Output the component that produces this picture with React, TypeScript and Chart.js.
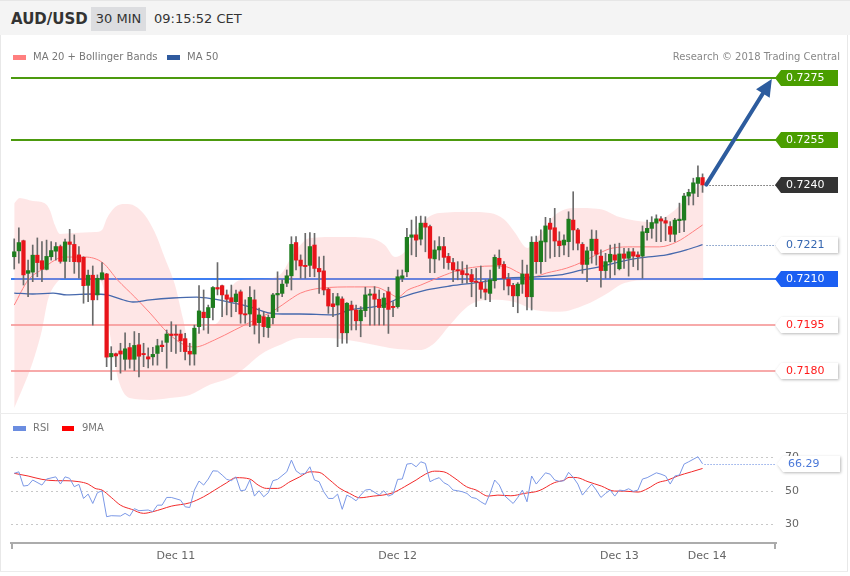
import React, { useEffect, useRef } from 'react';
import { Chart, registerables } from 'chart.js';
Chart.register(...registerables);
Chart.defaults.font.family = '"DejaVu Sans", sans-serif';

// ---------- data ----------
const opens = [
  0.72171,0.72190,0.72223,0.72117,0.72121,0.72176,0.72158,0.72130,0.72171,0.72189,
  0.72204,0.72156,0.72219,0.72211,0.72177,0.72169,0.72078,0.72111,0.72047,0.72098,
  0.72115,0.71846,0.71856,0.71865,0.71838,0.71876,0.71838,0.71885,0.71855,0.71846,
  0.71846,0.71857,0.71884,0.71893,0.71920,0.71920,0.71920,0.71905,0.71864,0.71855,
  0.71944,0.71991,0.71973,0.72006,0.72071,0.72077,0.72047,0.72038,0.72025,0.72057,
  0.71985,0.71985,0.72031,0.71957,0.71976,0.71941,0.71973,0.72047,0.72052,0.72085,
  0.72109,0.72217,0.72160,0.72143,0.72143,0.72209,0.72133,0.72125,0.72066,0.72018,
  0.72014,0.72034,0.71924,0.72014,0.71998,0.71963,0.71996,0.72046,0.72050,0.72033,
  0.72006,0.72057,0.72008,0.72009,0.72101,0.72122,0.72234,0.72242,0.72228,0.72280,
  0.72269,0.72164,0.72193,0.72204,0.72172,0.72152,0.72128,0.72126,0.72114,0.72113,
  0.72090,0.72088,0.72066,0.72052,0.72093,0.72166,0.72146,0.72098,0.72078,0.72044,
  0.72082,0.72115,0.72041,0.72218,0.72155,0.72219,0.72280,0.72265,0.72222,0.72209,
  0.72220,0.72290,0.72258,0.72211,0.72146,0.72191,0.72228,0.72173,0.72126,0.72154,
  0.72177,0.72132,0.72180,0.72166,0.72187,0.72177,0.72173,0.72249,0.72263,0.72280,
  0.72294,0.72288,0.72269,0.72244,0.72288,0.72290,0.72368,0.72377,0.72409,0.72428,
];
const highs = [
  0.72229,0.72265,0.72225,0.72160,0.72209,0.72232,0.72220,0.72225,0.72220,0.72217,
  0.72209,0.72228,0.72260,0.72242,0.72204,0.72171,0.72128,0.72141,0.72112,0.72152,
  0.72117,0.71879,0.71858,0.71890,0.71924,0.71890,0.71928,0.71922,0.71890,0.71875,
  0.71877,0.71903,0.71898,0.71933,0.71960,0.71949,0.71933,0.71922,0.71890,0.71949,
  0.72077,0.72063,0.72014,0.72074,0.72152,0.72079,0.72063,0.72079,0.72063,0.72063,
  0.72031,0.72074,0.72063,0.72004,0.71993,0.71982,0.72052,0.72122,0.72096,0.72128,
  0.72236,0.72236,0.72177,0.72247,0.72249,0.72247,0.72171,0.72173,0.72069,0.72052,
  0.72052,0.72041,0.72022,0.72027,0.72014,0.72009,0.72072,0.72065,0.72074,0.72063,
  0.72052,0.72072,0.72025,0.72128,0.72128,0.72263,0.72290,0.72301,0.72303,0.72301,
  0.72274,0.72223,0.72236,0.72234,0.72182,0.72166,0.72155,0.72155,0.72144,0.72130,
  0.72133,0.72141,0.72096,0.72128,0.72177,0.72193,0.72155,0.72117,0.72085,0.72087,
  0.72160,0.72144,0.72236,0.72238,0.72258,0.72299,0.72296,0.72328,0.72252,0.72242,
  0.72317,0.72382,0.72263,0.72217,0.72202,0.72258,0.72256,0.72193,0.72182,0.72209,
  0.72212,0.72215,0.72198,0.72198,0.72198,0.72187,0.72271,0.72290,0.72301,0.72307,
  0.72301,0.72299,0.72285,0.72296,0.72345,0.72377,0.72390,0.72426,0.72466,0.72440,
];
const lows = [
  0.72131,0.72150,0.72079,0.72041,0.72090,0.72106,0.72090,0.72128,0.72160,0.72160,
  0.72150,0.72101,0.72155,0.72117,0.72101,0.72020,0.72025,0.71949,0.72031,0.72096,
  0.71814,0.71771,0.71814,0.71793,0.71803,0.71809,0.71801,0.71781,0.71814,0.71810,
  0.71819,0.71819,0.71863,0.71809,0.71863,0.71857,0.71863,0.71836,0.71819,0.71819,
  0.71922,0.71933,0.71922,0.71966,0.72047,0.71976,0.71982,0.71976,0.71993,0.71955,
  0.71955,0.71944,0.71920,0.71890,0.71911,0.71909,0.71953,0.71993,0.72041,0.72074,
  0.72063,0.72128,0.72101,0.72101,0.72106,0.72106,0.72052,0.72047,0.71987,0.71976,
  0.71879,0.71890,0.71890,0.71933,0.71933,0.71911,0.71976,0.71949,0.71949,0.71949,
  0.71949,0.71922,0.71976,0.72004,0.72090,0.72106,0.72177,0.72171,0.72209,0.72187,
  0.72119,0.72119,0.72160,0.72133,0.72130,0.72090,0.72096,0.72085,0.72085,0.72041,
  0.72009,0.72036,0.72031,0.72025,0.72069,0.72133,0.72063,0.72047,0.72009,0.71989,
  0.72052,0.71998,0.71998,0.72117,0.72117,0.72155,0.72166,0.72171,0.72171,0.72177,
  0.72171,0.72193,0.72193,0.72117,0.72090,0.72150,0.72144,0.72072,0.72101,0.72101,
  0.72112,0.72128,0.72133,0.72108,0.72139,0.72128,0.72101,0.72225,0.72231,0.72220,
  0.72220,0.72223,0.72220,0.72220,0.72249,0.72252,0.72339,0.72339,0.72366,0.72380,
];
const closes = [
  0.72187,0.72217,0.72112,0.72126,0.72176,0.72152,0.72130,0.72172,0.72191,0.72204,
  0.72156,0.72219,0.72211,0.72155,0.72154,0.72077,0.72111,0.72031,0.72101,0.72119,
  0.71845,0.71857,0.71849,0.71855,0.71872,0.71838,0.71883,0.71848,0.71853,0.71839,
  0.71854,0.71882,0.71879,0.71920,0.71915,0.71916,0.71898,0.71863,0.71855,0.71939,
  0.71995,0.71973,0.72006,0.72071,0.72066,0.72047,0.72033,0.72025,0.72050,0.71985,
  0.71982,0.72039,0.71949,0.71982,0.71944,0.71974,0.72047,0.72052,0.72082,0.72109,
  0.72211,0.72160,0.72141,0.72139,0.72204,0.72133,0.72122,0.72063,0.72011,0.72009,
  0.72041,0.71924,0.72020,0.71998,0.71963,0.71998,0.72047,0.72050,0.72033,0.72006,
  0.72037,0.72000,0.72006,0.72106,0.72109,0.72234,0.72242,0.72225,0.72280,0.72267,
  0.72166,0.72193,0.72204,0.72169,0.72152,0.72128,0.72125,0.72113,0.72112,0.72090,
  0.72088,0.72065,0.72056,0.72096,0.72169,0.72144,0.72101,0.72076,0.72044,0.72082,
  0.72115,0.72041,0.72218,0.72155,0.72222,0.72271,0.72260,0.72222,0.72207,0.72225,
  0.72293,0.72258,0.72215,0.72146,0.72190,0.72228,0.72179,0.72126,0.72155,0.72179,
  0.72160,0.72180,0.72166,0.72187,0.72173,0.72171,0.72252,0.72263,0.72282,0.72294,
  0.72287,0.72280,0.72244,0.72290,0.72293,0.72368,0.72380,0.72411,0.72428,0.72404,
];

// [candle index, price]
const bandUpper = [
  [0,0.72345],[1.2,0.72362],[4,0.72352],[6.6,0.72345],[7.7,0.72323],[8.8,0.72274],[9.9,0.72245],
  [13,0.72248],[17.5,0.72251],[19,0.72258],[20.1,0.72297],[21.8,0.72332],[24,0.72342],[26.1,0.72336],
  [28.3,0.72306],[30.4,0.72251],[32.6,0.72167],[34.8,0.72079],[36.5,0.71972],[38,0.71885],
  [39.1,0.71917],[41.3,0.71940],[44.5,0.71966],[46.7,0.72063],[48.8,0.72095],[53.2,0.72099],
  [57.5,0.72112],[60.7,0.72186],[64,0.72232],[70.5,0.72235],[77,0.72232],[80.2,0.72209],
  [82.4,0.72170],[84.5,0.72186],[87.8,0.72274],[92.1,0.72313],[98.6,0.72316],[103,0.72313],
  [106.2,0.72290],[108.3,0.72251],[111.1,0.72199],[113.7,0.72242],[117,0.72306],[121.3,0.72329],
  [126.7,0.72326],[131,0.72300],[137.5,0.72284],[141.9,0.72310],[146.2,0.72371],[149.2,0.72420],
];
const bandLower = [
  [0,0.71680],[1.2,0.71722],[3,0.71787],[4.7,0.71862],[6,0.71933],[7.3,0.72031],[8.8,0.72079],
  [10.3,0.72099],[18.5,0.72095],[19.4,0.72063],[20.3,0.71966],[21.4,0.71852],[22.9,0.71755],
  [25,0.71712],[29.4,0.71706],[33.7,0.71712],[38,0.71722],[42.3,0.71755],[46.7,0.71777],
  [49.9,0.71810],[53.2,0.71852],[57.5,0.71884],[61.8,0.71907],[68.3,0.71907],[74.8,0.71894],
  [81.3,0.71875],[87.8,0.71868],[91,0.71891],[94.3,0.71949],[98.6,0.72014],[103,0.72031],
  [108.3,0.72024],[112.7,0.71998],[118.1,0.71992],[123.5,0.72014],[127.8,0.72047],
  [132.1,0.72086],[137.5,0.72095],[149.2,0.72095],
];
const ma20 = [
  [0,0.72014],[3,0.72095],[5.8,0.72128],[8.8,0.72160],[10.5,0.72170],[15.3,0.72170],[19.2,0.72151],
  [22.4,0.72095],[26.1,0.72040],[29.4,0.71988],[33.3,0.71923],[36.9,0.71884],[39.1,0.71878],
  [43.4,0.71901],[47.7,0.71933],[52.1,0.71966],[56.4,0.71998],[59.6,0.72031],[62,0.72053],
  [66.4,0.72069],[73.7,0.72073],[78,0.72073],[80.9,0.72056],[83,0.72040],[85.2,0.72063],
  [88,0.72079],[92.1,0.72105],[96.4,0.72128],[100.1,0.72138],[103.6,0.72141],[106.6,0.72138],
  [109.4,0.72118],[112.2,0.72105],[115.2,0.72118],[119.6,0.72134],[123,0.72154],[126.7,0.72183],
  [129.5,0.72199],[133.9,0.72203],[139.7,0.72203],[143.4,0.72219],[146.8,0.72251],[149,0.72274],
];
const ma50 = [
  [0,0.72053],[4,0.72050],[8.4,0.72053],[11.4,0.72047],[17,0.72050],[20.1,0.72047],[22.9,0.72034],
  [25.7,0.72024],[29.4,0.72031],[34.3,0.72037],[39.5,0.72040],[43,0.72034],[47.3,0.72021],
  [51,0.72008],[55.3,0.71988],[58.1,0.71985],[61.8,0.71985],[69,0.71982],[72.6,0.71998],
  [79.8,0.72014],[83.4,0.72037],[89.3,0.72063],[94.3,0.72076],[101.4,0.72089],[106.6,0.72102],
  [112.2,0.72105],[118.1,0.72112],[123,0.72128],[126.7,0.72138],[131,0.72154],[135.4,0.72167],
  [141.2,0.72177],[145.5,0.72193],[149,0.72210],
];
const rsi = [
  [0,60.6],[1,61.5],[2,53.0],[3,53.4],[4,56.6],[6,53.6],[7,57.2],[9,58.5],[10,54.2],[11,58.5],
  [12,57.6],[13,52.6],[14,54.0],[15,45.6],[16,48.2],[17,42.6],[18,49.0],[19,50.2],[20,34.7],
  [21,35.3],[23,35.1],[24,36.7],[25,35.1],[26,39.5],[27,38.3],[29,38.7],[30,37.7],[31,41.6],
  [32,41.6],[33,46.2],[34,46.2],[36,44.6],[37,40.6],[38,40.2],[39,50.6],[40,56.0],[41,53.6],
  [42,57.2],[43,62.1],[44,61.9],[45,59.6],[46,57.0],[47,56.2],[48,58.5],[49,50.2],[50,50.6],
  [51,56.6],[52,47.0],[53,50.2],[54,46.6],[55,49.0],[56,56.2],[57,57.0],[59,61.5],[60,68.5],
  [61,62.1],[62,60.1],[63,60.6],[64,64.5],[65,56.6],[66,55.6],[67,49.6],[68,45.6],[69,45.6],
  [70,48.2],[71,39.1],[72,47.6],[73,46.2],[74,44.2],[75,47.6],[76,50.6],[77,51.0],[79,47.6],
  [80,50.2],[81,47.0],[82,48.2],[83,57.0],[84,57.2],[85,66.1],[86,66.5],[87,64.5],[88,67.5],
  [89,66.5],[90,55.6],[91,57.0],[92,58.0],[93,55.0],[94,53.6],[95,50.6],[96,50.2],[97,49.6],
  [98,48.6],[99,46.2],[100,45.6],[101,43.6],[102,42.0],[103,48.6],[104,56.6],[105,53.6],
  [106,47.6],[108,42.6],[109,46.2],[110,50.6],[111,43.6],[112,59.0],[113,54.2],[115,60.9],
  [116,60.1],[117,56.6],[118,55.8],[119,56.2],[120,61.2],[121,58.2],[122,54.2],[123,47.6],
  [124,51.0],[125,54.2],[126,50.6],[127,46.2],[128,48.6],[129,50.6],[130,47.0],[131,50.6],
  [132,50.2],[133,51.4],[134,49.8],[135,50.6],[136,57.2],[137,58.0],[139,60.9],[140,60.1],
  [141,59.0],[142,54.2],[143,59.0],[144,59.6],[145,66.1],[146,67.5],[148,70.5],[149,66.29],
];
const rsiMa = [
  [0,60.6],[3,59.0],[6,57.0],[9,56.2],[11,56.2],[14,55.6],[16,54.2],[17.5,51.6],[19,50.6],
  [21,46.2],[23,41.6],[25.4,39.1],[28,36.7],[30,37.7],[32,39.3],[34,41.0],[38,43.0],[41,46.6],
  [43.4,50.6],[46,55.0],[48,58.0],[51,57.2],[52.8,53.6],[54.6,51.6],[57,51.6],[59.7,55.6],
  [61.8,58.5],[64,61.5],[66,61.2],[68.3,56.6],[70.5,51.6],[72.6,48.6],[74.8,46.0],[77.7,47.0],
  [79.8,47.6],[82,49.0],[84.5,52.6],[87,56.6],[89,60.1],[91,61.9],[93,61.5],[95.4,57.6],
  [97.9,52.6],[100,50.6],[102.6,47.0],[104.7,47.6],[107.5,47.2],[110.4,48.6],[113.6,50.2],
  [116.9,55.0],[119.1,56.6],[120.1,58.2],[121.9,58.0],[124.2,55.6],[127.1,53.0],[129.9,50.0],
  [132,50.0],[135,49.4],[137.2,51.6],[139.3,55.0],[141.5,56.6],[143.6,59.0],[146.6,61.5],[149,63.5],
];
const levels = [0.7275, 0.7255, 0.7210, 0.7195, 0.7180];
const levelLabels = ['0.7275', '0.7255', '0.7210', '0.7195', '0.7180'];
const lastPrice = 0.72404;
const lastPriceLabel = '0.7240';
const ma50Last = 0.7221;
const ma50Label = '0.7221';
const rsiLast = 66.29;
const rsiLabel = '66.29';
const arrowFrom = [149.8, 0.72405];
const arrowTo = [164.0, 0.72748];
const dateTicks = [35, 83, 131, 150];
const dateLabels = ['Dec 11', 'Dec 12', 'Dec 13', 'Dec 14'];
const rsiTicks = [30, 50, 70];

// ---------- styles ----------
const levelColors = ['#4c9a0e', '#4c9a0e', '#3d7ef2', '#f7aaaa', '#f7aaaa'];
const tagBg = ['#4a9e00', '#4a9e00', '#1b5ff2', '#ffffff', '#ffffff'];
const tagFg = ['#ffffff', '#ffffff', '#ffffff', '#ff1a1a', '#ff1a1a'];
const GREEN = '#1e7d1e';
const RED = '#e8141a';
const X_MIN = -0.7;
const X_MAX = 164.9;

function drawTag(ctx: any, x: number, y: number, text: string, bg: string, fg: string) {
  const h = 16, w = 63, tip = 6;
  ctx.save();
  if (bg === '#ffffff') {
    ctx.shadowColor = 'rgba(0,0,0,0.28)';
    ctx.shadowBlur = 3;
    ctx.shadowOffsetX = 1;
    ctx.shadowOffsetY = 1;
  }
  ctx.fillStyle = bg;
  ctx.beginPath();
  ctx.moveTo(x, y);
  ctx.lineTo(x + tip, y - h / 2);
  ctx.lineTo(x + w, y - h / 2);
  ctx.lineTo(x + w, y + h / 2);
  ctx.lineTo(x + tip, y + h / 2);
  ctx.closePath();
  ctx.fill();
  ctx.restore();
  ctx.save();
  ctx.fillStyle = fg;
  ctx.font = '11px "DejaVu Sans"';
  ctx.textBaseline = 'middle';
  ctx.textAlign = 'left';
  ctx.fillText(text, x + 11, y + 0.5);
  ctx.restore();
}

const priceOverlay = {
  id: 'priceOverlay',
  beforeDatasetsDraw(chart: any) {
    const { ctx, chartArea: a, scales } = chart;
    ctx.save();
    levels.forEach((lv, k) => {
      const yy = Math.round(scales.y.getPixelForValue(lv));
      ctx.strokeStyle = levelColors[k];
      ctx.lineWidth = 2;
      ctx.beginPath();
      ctx.moveTo(a.left, yy);
      ctx.lineTo(a.right, yy);
      ctx.stroke();
    });
    ctx.restore();
  },
  afterDraw(chart: any) {
    const { ctx, chartArea: a, scales } = chart;
    const xs = scales.x, ys = scales.y;
    const xEnd = xs.getPixelForValue(closes.length - 1) + 4;
    ctx.save();
    ctx.setLineDash([1, 2]);
    ctx.lineWidth = 1;
    ctx.strokeStyle = '#222';
    let yy = Math.round(ys.getPixelForValue(lastPrice)) + 0.5;
    ctx.beginPath(); ctx.moveTo(xEnd, yy); ctx.lineTo(a.right, yy); ctx.stroke();
    ctx.strokeStyle = '#3a64a8';
    yy = Math.round(ys.getPixelForValue(ma50Last)) + 0.5;
    ctx.beginPath(); ctx.moveTo(xEnd, yy); ctx.lineTo(a.right, yy); ctx.stroke();
    ctx.restore();

    // arrow
    const x1 = xs.getPixelForValue(arrowFrom[0]), y1 = ys.getPixelForValue(arrowFrom[1]);
    const x2 = xs.getPixelForValue(arrowTo[0]), y2 = ys.getPixelForValue(arrowTo[1]);
    const ang = Math.atan2(y2 - y1, x2 - x1);
    const hl = 17, hw = 8;
    const bx = x2 - hl * Math.cos(ang), by = y2 - hl * Math.sin(ang);
    ctx.save();
    ctx.strokeStyle = '#2d5c9e';
    ctx.fillStyle = '#2d5c9e';
    ctx.lineWidth = 4;
    ctx.lineCap = 'round';
    ctx.beginPath(); ctx.moveTo(x1, y1); ctx.lineTo(bx, by); ctx.stroke();
    ctx.beginPath();
    ctx.moveTo(x2, y2);
    ctx.lineTo(bx + hw * Math.sin(ang), by - hw * Math.cos(ang));
    ctx.lineTo(bx - hw * Math.sin(ang), by + hw * Math.cos(ang));
    ctx.closePath();
    ctx.fill();
    ctx.restore();

    const tx = a.right - 1;
    levels.forEach((lv, k) => {
      drawTag(ctx, tx, Math.round(ys.getPixelForValue(lv)), levelLabels[k], tagBg[k], tagFg[k]);
    });
    drawTag(ctx, tx, Math.round(ys.getPixelForValue(lastPrice)), lastPriceLabel, '#333333', '#ffffff');
    drawTag(ctx, tx, Math.round(ys.getPixelForValue(ma50Last)), ma50Label, '#ffffff', '#3566b0');
  },
};

const rsiOverlay = {
  id: 'rsiOverlay',
  afterDraw(chart: any) {
    const { ctx, chartArea: a, scales } = chart;
    ctx.save();
    ctx.strokeStyle = '#aaa';
    ctx.lineWidth = 2;
    ctx.beginPath();
    ctx.moveTo(a.left + 1, a.bottom); ctx.lineTo(a.left + 1, a.bottom + 6);
    ctx.moveTo(a.right - 1, a.bottom); ctx.lineTo(a.right - 1, a.bottom + 6);
    ctx.stroke();
    const xEnd = scales.x.getPixelForValue(rsi[rsi.length - 1][0]) + 2;
    const yy = Math.round(scales.y.getPixelForValue(rsiLast)) + 0.5;
    ctx.setLineDash([1, 2]);
    ctx.lineWidth = 1;
    ctx.strokeStyle = '#5b82e0';
    ctx.beginPath(); ctx.moveTo(xEnd, yy); ctx.lineTo(a.right, yy); ctx.stroke();
    ctx.restore();
    drawTag(ctx, a.right + 1, Math.round(scales.y.getPixelForValue(rsiLast)), rsiLabel, '#ffffff', '#4a78d8');
  },
};

export default function App() {
  const priceRef = useRef<HTMLCanvasElement>(null);
  const rsiRef = useRef<HTMLCanvasElement>(null);

  useEffect(() => {
    const bodyColors = opens.map((o, i) => (closes[i] >= o ? GREEN : RED));
    const pc = new Chart(priceRef.current as HTMLCanvasElement, {
      type: 'bar',
      data: {
        datasets: [
          {
            type: 'bar',
            data: opens.map((o, i) => ({ x: i, y: [o, closes[i]] })),
            backgroundColor: bodyColors,
            borderWidth: 0,
            barThickness: 3.6,
            minBarLength: 1.2,
            grouped: false,
            order: 0,
          } as any,
          {
            type: 'bar',
            data: lows.map((l, i) => ({ x: i, y: [l, highs[i]] })),
            backgroundColor: '#6a6a6a',
            borderWidth: 0,
            barThickness: 1,
            grouped: false,
            order: 1,
          } as any,
          {
            type: 'line',
            data: ma50.map(([x, y]) => ({ x, y })),
            borderColor: '#4769ad',
            borderWidth: 1.3,
            pointRadius: 0,
            cubicInterpolationMode: 'monotone',
            fill: false,
            order: 2,
          } as any,
          {
            type: 'line',
            data: ma20.map(([x, y]) => ({ x, y })),
            borderColor: '#ff8080',
            borderWidth: 1,
            pointRadius: 0,
            cubicInterpolationMode: 'monotone',
            fill: false,
            order: 3,
          } as any,
          {
            type: 'line',
            data: bandUpper.map(([x, y]) => ({ x, y })),
            borderWidth: 0,
            borderColor: 'rgba(0,0,0,0)',
            backgroundColor: 'rgba(250,150,150,0.24)',
            pointRadius: 0,
            cubicInterpolationMode: 'monotone',
            fill: '+1',
            order: 4,
          } as any,
          {
            type: 'line',
            data: bandLower.map(([x, y]) => ({ x, y })),
            borderWidth: 0,
            borderColor: 'rgba(0,0,0,0)',
            pointRadius: 0,
            cubicInterpolationMode: 'monotone',
            fill: false,
            order: 5,
          } as any,
        ],
      },
      options: {
        responsive: false,
        animation: false,
        devicePixelRatio: 1,
        layout: { padding: { left: 11, right: 74, top: 0, bottom: 0 } },
        plugins: { legend: { display: false }, tooltip: { enabled: false } },
        scales: {
          x: { type: 'linear', min: X_MIN, max: X_MAX, offset: false, display: false, grid: { offset: false } },
          y: { type: 'linear', min: 0.716636, max: 0.728909, display: false },
        },
      } as any,
      plugins: [priceOverlay],
    });

    const rc = new Chart(rsiRef.current as HTMLCanvasElement, {
      type: 'line',
      data: {
        datasets: [
          {
            data: rsi.map(([x, y]) => ({ x, y })),
            borderColor: '#7b98e6',
            borderWidth: 1,
            pointRadius: 0,
            tension: 0,
            fill: false,
          },
          {
            data: rsiMa.map(([x, y]) => ({ x, y })),
            borderColor: '#f22a2a',
            borderWidth: 1,
            pointRadius: 0,
            cubicInterpolationMode: 'monotone',
            fill: false,
          },
        ],
      },
      options: {
        responsive: false,
        animation: false,
        devicePixelRatio: 1,
        layout: { padding: { left: 11, right: 0, top: 27, bottom: 0 } },
        plugins: { legend: { display: false }, tooltip: { enabled: false } },
        scales: {
          x: {
            type: 'linear',
            min: X_MIN,
            max: X_MAX,
            offset: false,
            grid: { display: false, drawTicks: false },
            border: { display: true, color: '#acacac', width: 2 },
            afterBuildTicks: (s: any) => { s.ticks = dateTicks.map((v) => ({ value: v })); },
            afterFit: (s: any) => { s.height = 28; },
            ticks: {
              autoSkip: false,
              maxRotation: 0,
              padding: 7,
              color: '#666',
              font: { size: 11 },
              callback: (v: any) => { const k = dateTicks.indexOf(v); return k >= 0 ? dateLabels[k] : ''; },
            },
          },
          y: {
            type: 'linear',
            position: 'right',
            min: 19,
            max: 80.5,
            afterBuildTicks: (s: any) => { s.ticks = rsiTicks.map((v) => ({ value: v })); },
            afterFit: (s: any) => { s.width = 74; },
            grid: { color: '#c8c8c8', drawTicks: false, lineWidth: 1 },
            border: { display: false, dash: [2, 3] },
            ticks: { padding: 9, color: '#666', font: { size: 11 } },
          },
        },
      } as any,
      plugins: [rsiOverlay],
    });

    return () => { pc.destroy(); rc.destroy(); };
  }, []);

  const font = '"DejaVu Sans", sans-serif';
  return (
    <div style={{ position: 'absolute', left: 0, top: 0, width: 850, height: 576, background: '#fff', fontFamily: font, overflow: 'hidden' }}>
      <div style={{ position: 'absolute', left: 0, top: 0, width: 850, height: 35, background: '#f4f4f4', borderTop: '1px solid #e6e6e6', boxSizing: 'border-box' }}>
        <span style={{ position: 'absolute', left: 11, top: 9, fontSize: 15, fontWeight: 'bold', color: '#333', lineHeight: '18px' }}>AUD/USD</span>
        <span style={{ position: 'absolute', left: 91, top: 6, width: 55, height: 24, background: '#dcdde0', fontSize: 13, color: '#333', lineHeight: '24px', textAlign: 'center' }}>30 MIN</span>
        <span style={{ position: 'absolute', left: 154, top: 9, fontSize: 13, color: '#333', lineHeight: '18px' }}>09:15:52 CET</span>
      </div>
      <canvas ref={priceRef} width={850} height={378} style={{ position: 'absolute', left: 0, top: 35, display: 'block' }} />
      <canvas ref={rsiRef} width={850} height={158} style={{ position: 'absolute', left: 0, top: 413, display: 'block' }} />
      {/* legends */}
      <div style={{ position: 'absolute', left: 13, top: 55, width: 13, height: 5, background: '#ff7f7f' }} />
      <span style={{ position: 'absolute', left: 33, top: 51, fontSize: 10, color: '#777', lineHeight: '12px' }}>MA 20 + Bollinger Bands</span>
      <div style={{ position: 'absolute', left: 167, top: 55, width: 13, height: 5, background: '#2f5a9e' }} />
      <span style={{ position: 'absolute', left: 187, top: 51, fontSize: 10, color: '#777', lineHeight: '12px' }}>MA 50</span>
      <span style={{ position: 'absolute', right: 10, top: 51, fontSize: 10, color: '#888', lineHeight: '12px' }}>Research © 2018 Trading Central</span>
      <div style={{ position: 'absolute', left: 13, top: 426, width: 13, height: 5, background: '#6b8de0' }} />
      <span style={{ position: 'absolute', left: 33, top: 422, fontSize: 10, color: '#777', lineHeight: '12px' }}>RSI</span>
      <div style={{ position: 'absolute', left: 62, top: 426, width: 12, height: 5, background: '#f00' }} />
      <span style={{ position: 'absolute', left: 82, top: 422, fontSize: 10, color: '#777', lineHeight: '12px' }}>9MA</span>
      {/* frame lines */}
      <div style={{ position: 'absolute', left: 0, top: 35, width: 1, height: 537, background: '#e8e8e8' }} />
      <div style={{ position: 'absolute', left: 847, top: 35, width: 1, height: 537, background: '#e8e8e8' }} />
      <div style={{ position: 'absolute', left: 0, top: 413, width: 848, height: 1, background: '#ececec' }} />
      <div style={{ position: 'absolute', left: 0, top: 571, width: 848, height: 1, background: '#ececec' }} />
    </div>
  );
}
